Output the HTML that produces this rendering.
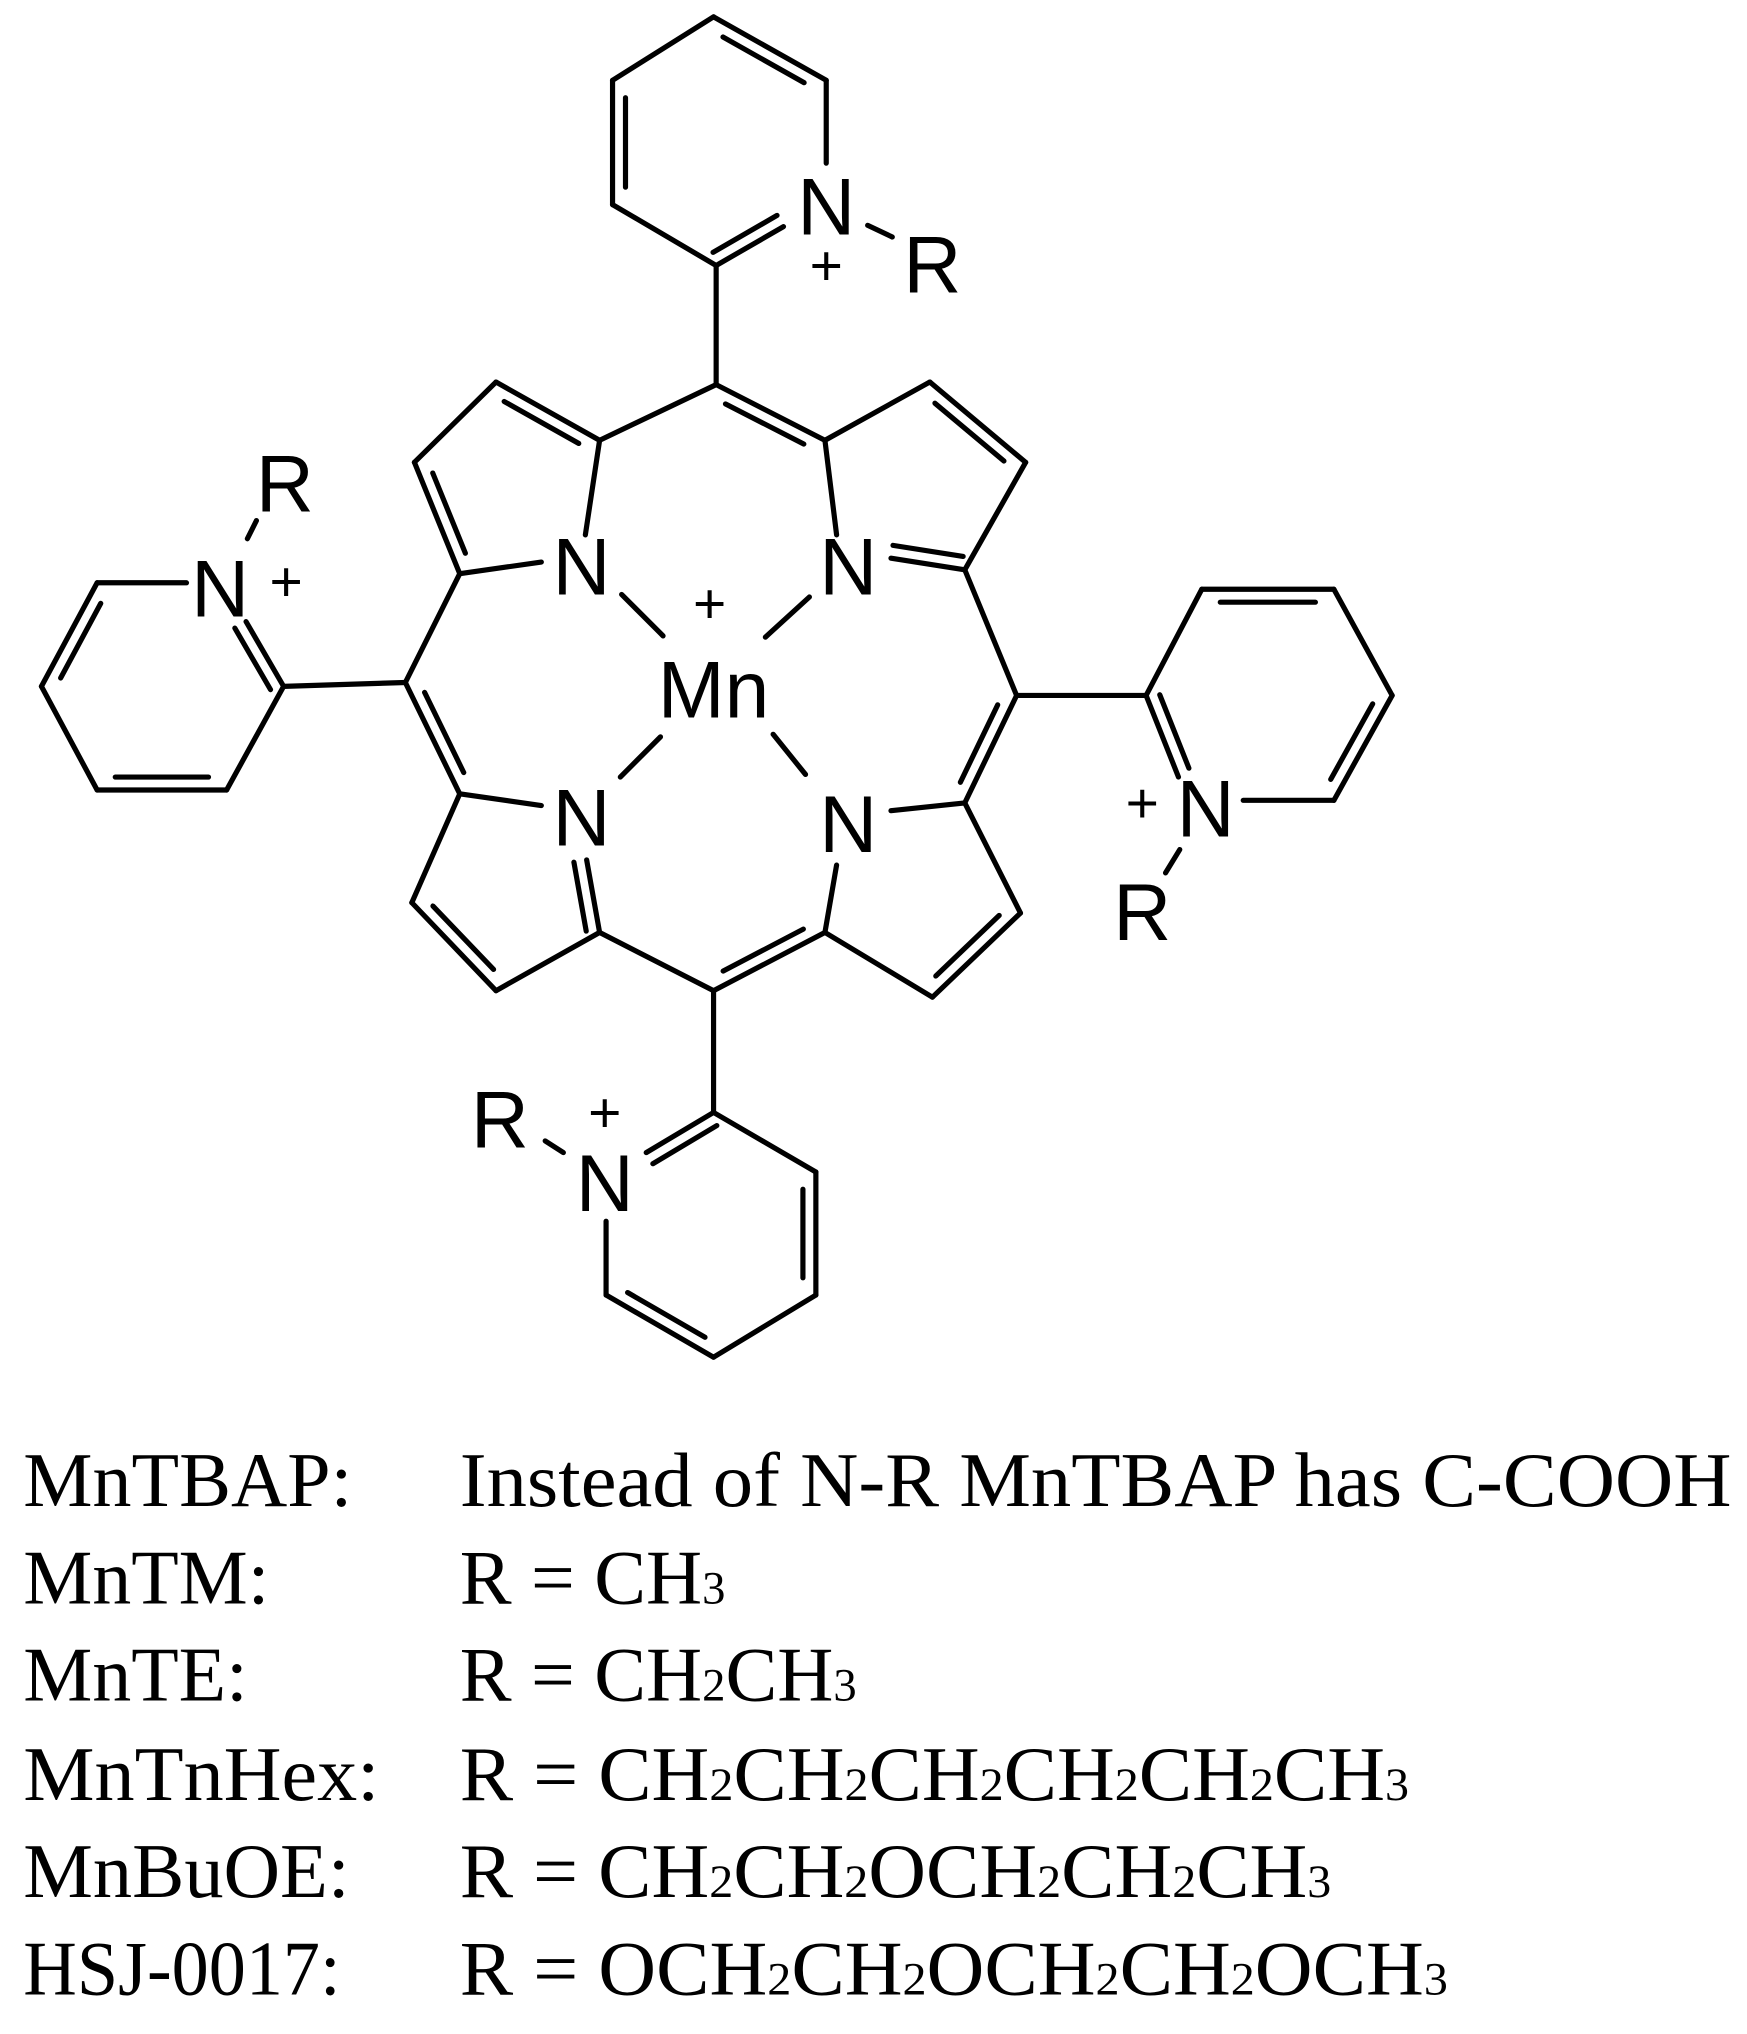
<!DOCTYPE html>
<html><head><meta charset="utf-8"><style>
html,body{margin:0;padding:0;background:#fff;}
svg{display:block;}
.t{font-family:"Liberation Sans",sans-serif;font-size:62px;fill:#000;text-anchor:middle;}
.p{font-family:"Liberation Sans",sans-serif;font-size:44px;fill:#000;text-anchor:middle;}
.s{font-family:"Liberation Serif",serif;font-size:60px;fill:#000;}
.s tspan.b{font-size:36px;}
</style></head><body>
<svg id="g" width="1747" height="2034" viewBox="0 0 1349 1570.6" preserveAspectRatio="none" xmlns="http://www.w3.org/2000/svg">
<g id="L" stroke="#000" stroke-width="4" stroke-linecap="round" fill="none"></g>
<text class="t" x="638" y="181">N</text><text class="p" x="638" y="220">+</text><text class="t" x="720" y="226">R</text>
<text class="t" x="220" y="395">R</text><text class="t" x="170" y="476">N</text><text class="p" x="221" y="464">+</text>
<text class="t" x="449" y="459">N</text><text class="t" x="655" y="459">N</text>
<text class="p" x="548" y="481">+</text>
<text class="t" x="551" y="554">Mn</text>
<text class="t" x="449" y="653">N</text><text class="t" x="655" y="658">N</text>
<text class="t" x="931" y="646">N</text><text class="p" x="882" y="635">+</text><text class="t" x="882" y="726">R</text>
<text class="t" x="386" y="886">R</text><text class="p" x="467" y="874">+</text><text class="t" x="467" y="935">N</text>
<text class="s" x="18" y="1163" textLength="254" lengthAdjust="spacingAndGlyphs">MnTBAP:</text>
<text class="s" x="355" y="1163" textLength="982" lengthAdjust="spacingAndGlyphs">Instead of N-R MnTBAP has C-COOH</text>
<text class="s" x="18" y="1238">MnTM:</text>
<text class="s" x="355" y="1238">R = CH<tspan class="b">3</tspan></text>
<text class="s" x="18" y="1313">MnTE:</text>
<text class="s" x="355" y="1313">R = CH<tspan class="b">2</tspan>CH<tspan class="b">3</tspan></text>
<text class="s" x="18" y="1390" textLength="275" lengthAdjust="spacingAndGlyphs">MnTnHex:</text>
<text class="s" x="355" y="1390" textLength="733" lengthAdjust="spacingAndGlyphs">R = CH<tspan class="b">2</tspan>CH<tspan class="b">2</tspan>CH<tspan class="b">2</tspan>CH<tspan class="b">2</tspan>CH<tspan class="b">2</tspan>CH<tspan class="b">3</tspan></text>
<text class="s" x="18" y="1465" textLength="252" lengthAdjust="spacingAndGlyphs">MnBuOE:</text>
<text class="s" x="355" y="1465" textLength="673" lengthAdjust="spacingAndGlyphs">R = CH<tspan class="b">2</tspan>CH<tspan class="b">2</tspan>OCH<tspan class="b">2</tspan>CH<tspan class="b">2</tspan>CH<tspan class="b">3</tspan></text>
<text class="s" x="18" y="1540" textLength="245" lengthAdjust="spacingAndGlyphs">HSJ-0017:</text>
<text class="s" x="355" y="1540" textLength="763" lengthAdjust="spacingAndGlyphs">R = OCH<tspan class="b">2</tspan>CH<tspan class="b">2</tspan>OCH<tspan class="b">2</tspan>CH<tspan class="b">2</tspan>OCH<tspan class="b">3</tspan></text>
</svg>
<script>
var g=document.getElementById('L');
function ln(a,b,c,d){var e=document.createElementNS('http://www.w3.org/2000/svg','line');e.setAttribute('x1',a);e.setAttribute('y1',b);e.setAttribute('x2',c);e.setAttribute('y2',d);g.appendChild(e);}
function dbl(a,b,c,d,cx,cy,s1,s2){ln(a,b,c,d);var dx=c-a,dy=d-b,L=Math.hypot(dx,dy),nx=-dy/L,ny=dx/L;var mx=(a+c)/2,my=(b+d)/2;if((cx-mx)*nx+(cy-my)*ny<0){nx=-nx;ny=-ny;}var o=10;s1=s1==null?0.14:s1;s2=s2==null?0.14:s2;ln(a+dx*s1+nx*o,b+dy*s1+ny*o,c-dx*s2+nx*o,d-dy*s2+ny*o);}
// top pyridine
dbl(551,13,638,62,551,110);ln(551,13,473,62);dbl(473,62,473,158,551,110);ln(473,158,553,205);
ln(638,62,638,126);dbl(553,205,605,175,551,110,0.05,0.0);ln(553,205,553,297);ln(670,174,689,183);
var M=[551,530];
ln(553,297,463,340);dbl(463,340,383,295,400,375);ln(383,295,320,357);dbl(320,357,355,443,400,375);
ln(355,443,418,434);ln(463,340,452,413);
dbl(553,297,637,340,M[0],M[1]);ln(637,340,718,295);dbl(718,295,792,357,700,375);ln(792,357,745,440);
dbl(745,440,688,431,700,375,0.05,0.0);ln(637,340,646,413);
ln(355,443,313,527);dbl(313,527,355,613,M[0],M[1]);ln(313,527,219,530);
ln(355,613,418,622);ln(355,613,318,697);dbl(318,697,383,765,400,690);ln(383,765,463,720);
dbl(463,720,453,664,400,690,0.05,0.0);
ln(463,720,551,765);dbl(551,765,637,720,M[0],M[1]);ln(551,765,551,859);
ln(637,720,646,668);ln(637,720,720,770);dbl(720,770,788,705,700,690);ln(788,705,745,620);ln(745,620,688,626);
ln(745,440,785,537);dbl(785,537,745,620,M[0],M[1]);ln(785,537,885,537);
ln(480,459,512,491);ln(591,492,625,461);ln(479,600,510,569);ln(597,567,622,598);
ln(144,450,75,450);dbl(75,450,32,530,125,530);ln(32,530,75,610);dbl(75,610,175,610,125,530);ln(175,610,219,530);
dbl(219,530,190,480,125,530,0.05,0.0);ln(191,416,198,402);
dbl(885,537,910,600,980,537,0.05,0.05);ln(885,537,928,455);dbl(928,455,1030,455,980,537);ln(1030,455,1075,537);
dbl(1075,537,1030,618,980,537);ln(1030,618,960,618);ln(911,656,900,674);
dbl(551,859,499,890,551,953,0.05,0.0);ln(551,859,630,905);dbl(630,905,630,1000,551,953);ln(630,1000,551,1048);
dbl(551,1048,468,1000,551,953);ln(468,1000,468,943);ln(421,881,435,890);
</script>
</body></html>
